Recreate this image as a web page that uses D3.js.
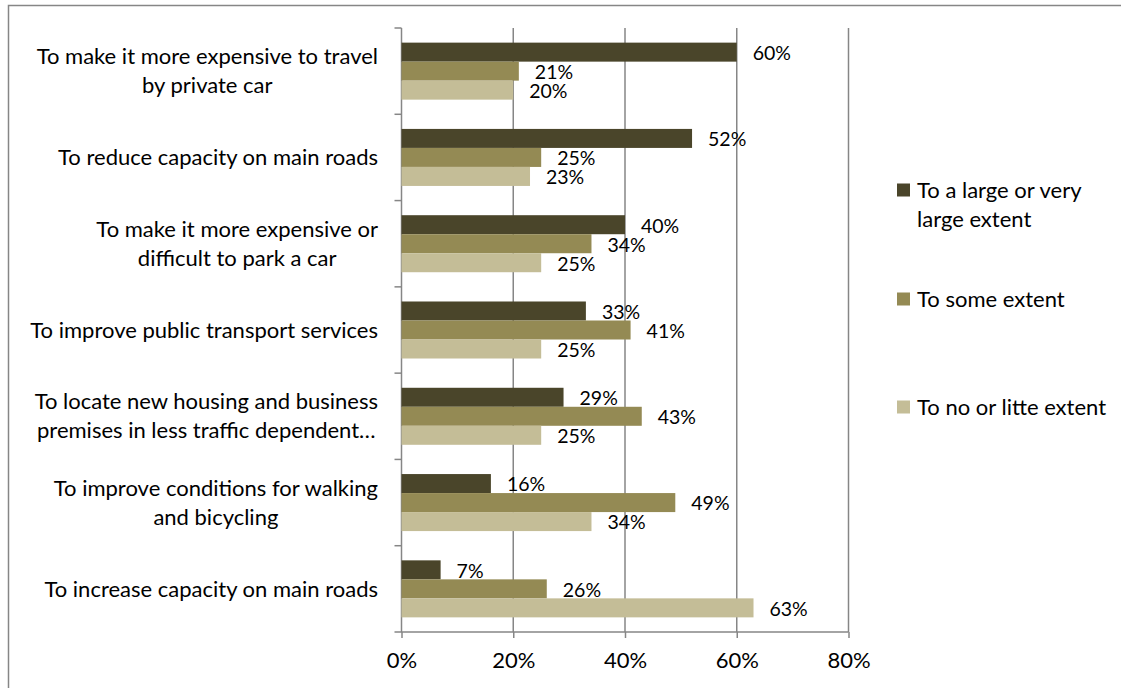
<!DOCTYPE html>
<html>
<head>
<meta charset="utf-8">
<script src="https://cdn.jsdelivr.net/npm/d3@7"></script>
<style>
  html, body { margin: 0; padding: 0; background: #fff; }
  text { font-family: Lato, "Open Sans", sans-serif; fill: #000; }
</style>
</head>
<body>
<div id="chart"></div>
<script>
const WIDTH = 1121;
const HEIGHT = 688;

// Categories, top to bottom, with their line breaks.
const categories = [
  ["To make it more expensive to travel", "by private car"],
  ["To reduce capacity on main roads"],
  ["To make it more expensive or", "difficult to park a car"],
  ["To improve public transport services"],
  ["To locate new housing and business", "premises in less traffic dependent…"],
  ["To improve conditions for walking", "and bicycling"],
  ["To increase capacity on main roads"]
];

const seriesNames = ["To a large or very large extent", "To some extent", "To no or litte extent"];
const legendLines = [["To a large or very", "large extent"], ["To some extent"], ["To no or litte extent"]];
const colors = ["#4a452a", "#948a54", "#c4bd97"];

const largeExtent = [0.60, 0.52, 0.40, 0.33, 0.29, 0.16, 0.07];
const someExtent  = [0.21, 0.25, 0.34, 0.41, 0.43, 0.49, 0.26];
const littleExtent = [0.20, 0.23, 0.25, 0.25, 0.25, 0.34, 0.63];

const xTicks = [0, 0.2, 0.4, 0.6, 0.8];

const series = [largeExtent, someExtent, littleExtent];

// Plot area.
const PLOT = {'left': 401.5, 'right': 848.5, 'top': 28, 'bottom': 632};
const FONT = "22px";

var svg = d3.select("#chart").append("svg")
            .attr("width", WIDTH)
            .attr("height", HEIGHT);

// Outer frame (right and bottom edges fall outside the picture).
svg.append("rect")
   .attr("x", 8.5).attr("y", 5.5)
   .attr("width", 1200).attr("height", 800)
   .attr("fill", "none")
   .attr("stroke", "#868686")
   .attr("stroke-width", 1.5);

var x = d3.scaleLinear().domain([0, 0.8]).range([PLOT.left, PLOT.right]);

var y0 = d3.scaleBand()
           .domain(d3.range(categories.length))
           .range([PLOT.top, PLOT.bottom])
           .padding(0);

var y1 = d3.scaleBand()
           .domain(d3.range(series.length))
           .range([0, y0.bandwidth()])
           .paddingInner(0)
           .paddingOuter(0.77);

// Gridlines.
svg.append("g").selectAll("line")
   .data(xTicks.slice(1))
   .enter().append("line")
   .attr("x1", d => x(d)).attr("x2", d => x(d))
   .attr("y1", PLOT.top).attr("y2", PLOT.bottom)
   .attr("stroke", "#868686")
   .attr("stroke-width", 1.5);

// X axis.
var xAxis = d3.axisBottom(x)
              .tickValues(xTicks)
              .tickFormat(d3.format(".0%"))
              .tickSizeInner(6)
              .tickSizeOuter(0)
              .tickPadding(14);

var gx = svg.append("g")
            .attr("transform", "translate(0," + PLOT.bottom + ")")
            .call(xAxis);
gx.select(".domain").attr("stroke", "#868686").attr("stroke-width", 1.5)
  .attr("d", "M" + (PLOT.left - 7) + ",0H" + PLOT.right);
gx.selectAll(".tick line").attr("stroke", "#868686").attr("stroke-width", 1.5);
gx.selectAll(".tick text").attr("font-size", FONT).attr("font-family", "Lato").attr("fill", "#000");

// Y axis line and boundary ticks.
svg.append("line")
   .attr("x1", PLOT.left).attr("x2", PLOT.left)
   .attr("y1", PLOT.top).attr("y2", PLOT.bottom)
   .attr("stroke", "#868686").attr("stroke-width", 1.5);

var bounds = d3.range(categories.length).map(i => y0(i));
svg.append("g").selectAll("line")
   .data(bounds)
   .enter().append("line")
   .attr("x1", PLOT.left - 7).attr("x2", PLOT.left)
   .attr("y1", d => d).attr("y2", d => d)
   .attr("stroke", "#868686").attr("stroke-width", 1.5);

// Category labels.
var catLabels = svg.append("g").selectAll("text")
   .data(categories)
   .enter().append("text")
   .attr("text-anchor", "middle")
   .attr("font-size", FONT);

catLabels.each(function (lines, i) {
    var t = d3.select(this);
    var cy = y0(i) + y0.bandwidth() / 2;
    var lh = 29;
    var start = cy - (lines.length - 1) * lh / 2;
    lines.forEach(function (ln, j) {
        t.append("tspan")
         .attr("x", 0)
         .attr("y", start + j * lh)
         .attr("dy", "0.35em")
         .text(ln);
    });
});

// Right-align the label blocks, lines centered within each block.
catLabels.each(function () {
    var t = d3.select(this);
    var w = this.getBBox().width;
    var cx = 378 - w / 2;
    t.selectAll("tspan").attr("x", cx);
});

// Bars.
var groups = svg.append("g").selectAll("g")
   .data(categories)
   .enter().append("g")
   .attr("transform", (d, i) => "translate(0," + y0(i) + ")");

groups.selectAll("rect")
   .data((d, i) => series.map((s, k) => ({k: k, v: s[i]})))
   .enter().append("rect")
   .attr("x", x(0))
   .attr("y", d => y1(d.k))
   .attr("width", d => x(d.v) - x(0))
   .attr("height", y1.bandwidth())
   .attr("fill", d => colors[d.k]);

groups.selectAll("text.val")
   .data((d, i) => series.map((s, k) => ({k: k, v: s[i]})))
   .enter().append("text")
   .attr("class", "val")
   .attr("x", d => x(d.v) + 16)
   .attr("y", d => y1(d.k) + y1.bandwidth() / 2 + 1)
   .attr("dy", "0.35em")
   .attr("font-size", "19.5px")
   .text(d => d3.format(".0%")(d.v));

// Legend.
var legendY = [190, 299, 407];
var legend = svg.append("g").selectAll("g")
   .data(seriesNames)
   .enter().append("g")
   .attr("transform", (d, i) => "translate(897," + legendY[i] + ")");

legend.append("rect")
   .attr("x", 0).attr("y", -6.5)
   .attr("width", 13).attr("height", 13)
   .attr("fill", (d, i) => colors[i]);

legend.append("text")
   .attr("font-size", FONT)
   .each(function (d, i) {
       var t = d3.select(this);
       legendLines[i].forEach(function (ln, j) {
           t.append("tspan")
            .attr("x", 20)
            .attr("y", j * 29)
            .attr("dy", "0.35em")
            .text(ln);
       });
   });
</script>
</body>
</html>
